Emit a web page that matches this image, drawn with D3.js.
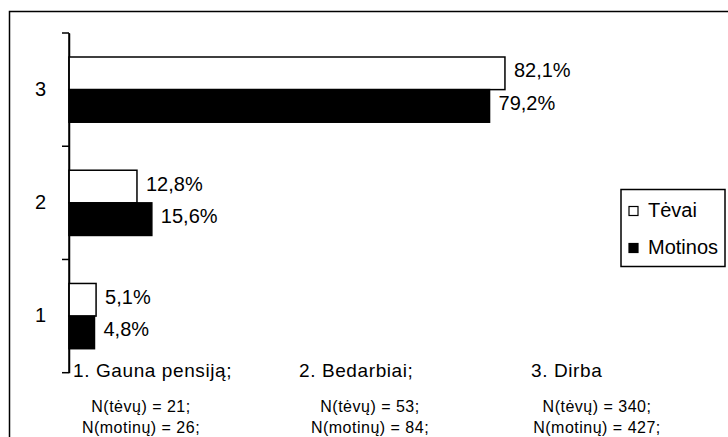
<!DOCTYPE html>
<html>
<head>
<meta charset="utf-8">
<script src="https://cdn.jsdelivr.net/npm/d3@7"></script>
<style>
  body { margin: 0; background: #fff; }
  svg { display: block; font-family: Arial, "Liberation Sans", sans-serif; }
</style>
</head>
<body>
<div id="chart"></div>
<script>
// data
const categories = ["3", "2", "1"];          // top to bottom
const seriesNames = ["Tėvai", "Motinos"];
const tevai   = [82.1, 12.8, 5.1];
const motinos = [79.2, 15.6, 4.8];
const groupTitles = ["1. Gauna pensiją;", "2. Bedarbiai;", "3. Dirba"];
const nTevu   = [21, 53, 340];
const nMotinu = [26, 84, 427];

const width = 728, height = 437;
const margin = ({top: 33, left: 69, bottom: 64.3});

let svg = d3.select("#chart")
    .append("svg")
    .attr("width", width)
    .attr("height", height)
    .attr("viewBox", [0, 0, width, height]);

// outer frame, runs off the right and bottom edge
svg.append("rect")
    .attr("x", 9.5).attr("y", 11.5)
    .attr("width", 800).attr("height", 500)
    .attr("fill", "none").attr("stroke", "#000").attr("stroke-width", 1.5);

let x = d3.scaleLinear()
    .domain([0, 100])
    .range([margin.left, 600]);

let y = d3.scaleBand()
    .domain(categories)
    .range([margin.top, height - margin.bottom]);

// two bars inside each band, with room above and below
let ySub = d3.scaleBand()
    .domain(seriesNames)
    .range([24, y.bandwidth() - 24]);

const yAxis = g => g
    .attr("transform", `translate(${margin.left}, 0)`)
    .call(d3.axisLeft(y).tickSize(0).tickPadding(23))
    .call(g => g.select(".domain").attr("stroke", "#000").attr("stroke-width", 1.5))
    .call(g => g.selectAll("text").attr("font-size", 20).attr("font-family", null).attr("fill", "#000"));

svg.append("g").call(yAxis);

// tick marks sit between the categories
const tickPos = y.domain().map(d => y(d)).concat([y.range()[1]]);
svg.append("g")
    .selectAll("line")
    .data(tickPos)
    .join("line")
    .attr("x1", margin.left - 7).attr("x2", margin.left)
    .attr("y1", d => d).attr("y2", d => d)
    .attr("stroke", "#000").attr("stroke-width", 1.5);

const rows = categories.map((c, i) => ({cat: c, values: [tevai[i], motinos[i]]}));

let group = svg.selectAll(".grp")
    .data(rows)
    .join("g")
    .attr("class", "grp")
    .attr("transform", d => `translate(0, ${y(d.cat)})`);

let bar = group.selectAll("g")
    .data(d => d.values.map((v, j) => ({name: seriesNames[j], value: v})))
    .join("g");

bar.append("rect")
    .attr("x", x(0))
    .attr("y", d => ySub(d.name))
    .attr("width", d => x(d.value) - x(0))
    .attr("height", ySub.bandwidth())
    .attr("fill", d => d.name === "Tėvai" ? "#fff" : "#000")
    .attr("stroke", "#000")
    .attr("stroke-width", 1.5);

bar.append("text")
    .attr("x", d => x(d.value) + 9)
    .attr("y", d => ySub(d.name) + ySub.bandwidth() / 2 + 4)
    .attr("font-size", 20)
    .text(d => d3.format(".1f")(d.value).replace(".", ",") + "%");

// axis line on top of the bars
svg.append("line")
    .attr("x1", margin.left).attr("x2", margin.left)
    .attr("y1", y.range()[0]).attr("y2", y.range()[1])
    .attr("stroke", "#000").attr("stroke-width", 1.5);

// legend
const legend = svg.append("g").attr("transform", "translate(621, 189.5)");
legend.append("rect")
    .attr("width", 104).attr("height", 77)
    .attr("fill", "#fff").attr("stroke", "#000").attr("stroke-width", 1.5);
let item = legend.selectAll(".item")
    .data(seriesNames)
    .join("g")
    .attr("class", "item")
    .attr("transform", (d, i) => `translate(8, ${17 + i * 37})`);
item.append("rect")
    .attr("width", 9).attr("height", 9)
    .attr("fill", d => d === "Tėvai" ? "#fff" : "#000")
    .attr("stroke", "#000").attr("stroke-width", 1.2);
item.append("text")
    .attr("x", 19).attr("y", 10.5)
    .attr("font-size", 20)
    .text(d => d);

// group descriptions under the chart
const titleX = [73, 299, 531];
const nX = [141, 370, 597];
svg.append("g")
    .selectAll("text")
    .data(groupTitles)
    .join("text")
    .attr("x", (d, i) => titleX[i])
    .attr("y", 377)
    .attr("font-size", 19)
    .attr("letter-spacing", 0.6)
    .text(d => d);

svg.append("g")
    .selectAll("text")
    .data(nTevu)
    .join("text")
    .attr("x", (d, i) => nX[i])
    .attr("y", 412)
    .attr("text-anchor", "middle")
    .attr("font-size", 16)
    .attr("letter-spacing", 0.5)
    .text(d => `N(tėvų) = ${d};`);

svg.append("g")
    .selectAll("text")
    .data(nMotinu)
    .join("text")
    .attr("x", (d, i) => nX[i])
    .attr("y", 433)
    .attr("text-anchor", "middle")
    .attr("font-size", 16)
    .attr("letter-spacing", 0.5)
    .text(d => `N(motinų) = ${d};`);
</script>
</body>
</html>
